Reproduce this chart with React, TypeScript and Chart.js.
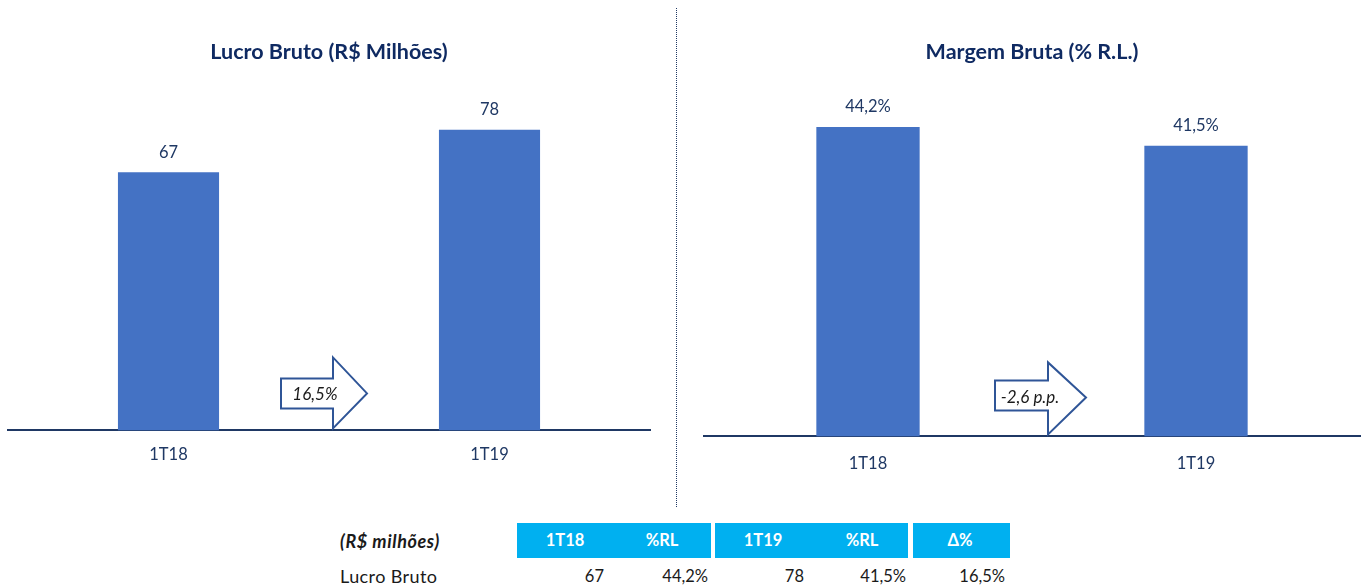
import React, { useEffect, useRef } from "react";
import { Chart, registerables } from "chart.js";

Chart.register(...registerables);

// ---- data ----
const categories = ["1T18", "1T19"];
const lucroBruto = [67, 78];
const lucroLabels = ["67", "78"];
const margemBruta = [44.2, 41.5];
const margemLabels = ["44,2%", "41,5%"];
const lucroVar = "16,5%";
const margemVar = "-2,6 p.p.";
const tableCaption = "(R$ milhões)";
const tableHeaders = ["1T18", "%RL", "1T19", "%RL", "Δ%"];
const tableRowLabel = "Lucro Bruto";
const tableRow = ["67", "44,2%", "78", "41,5%", "16,5%"];

const FONT = "Lato";
const NAVY = "#1f3864";
const TITLE = "#0f2a62";
const BAR = "#4472c4";

const valueLabelPlugin = {
  id: "valueLabels",
  afterDatasetsDraw(chart: any, _args: any, opts: any) {
    if (!opts || !opts.labels) return;
    const ctx = chart.ctx;
    const meta = chart.getDatasetMeta(0);
    ctx.save();
    ctx.font = `16.5px ${FONT}`;
    ctx.fillStyle = NAVY;
    ctx.textAlign = "center";
    ctx.textBaseline = "middle";
    meta.data.forEach((bar: any, i: number) => {
      ctx.fillText(opts.labels[i], bar.x, bar.y - opts.offset);
    });
    ctx.restore();
  },
};

const arrowPlugin = {
  id: "arrowNote",
  afterDraw(chart: any, _args: any, opts: any) {
    if (!opts || !opts.text) return;
    const { ctx, chartArea } = chart;
    const cx = (chartArea.left + chartArea.right) / 2;
    const b = chartArea.bottom;
    const [bl, hb, tip] = opts.xs;
    const [bt, bb, ht, hbot, ty] = opts.ys;
    ctx.save();
    ctx.beginPath();
    ctx.moveTo(cx + bl, b + bt);
    ctx.lineTo(cx + hb, b + bt);
    ctx.lineTo(cx + hb, b + ht);
    ctx.lineTo(cx + tip, b + ty);
    ctx.lineTo(cx + hb, b + hbot);
    ctx.lineTo(cx + hb, b + bb);
    ctx.lineTo(cx + bl, b + bb);
    ctx.closePath();
    ctx.fillStyle = "#ffffff";
    ctx.fill();
    ctx.strokeStyle = "#2f5597";
    ctx.lineWidth = 2;
    ctx.lineJoin = "miter";
    ctx.stroke();
    ctx.font = `italic 17px ${FONT}`;
    ctx.fillStyle = "#1a1a1a";
    ctx.textAlign = "center";
    ctx.textBaseline = "middle";
    ctx.fillText(opts.text, cx + opts.tx, b + opts.ty);
    ctx.restore();
  },
};

function makeConfig(
  title: string,
  data: number[],
  labels: string[],
  yMax: number,
  padLeft: number,
  padRight: number,
  tickPad: number,
  arrow: any
): any {
  return {
    type: "bar",
    data: {
      labels: categories,
      datasets: [
        {
          data,
          backgroundColor: BAR,
          barPercentage: 0.63,
          categoryPercentage: 0.5,
        },
      ],
    },
    options: {
      animation: false,
      responsive: false,
      layout: { padding: { left: padLeft, right: padRight, top: 0, bottom: 16.8 } },
      plugins: {
        legend: { display: false },
        tooltip: { enabled: false },
        title: {
          display: true,
          text: title,
          color: TITLE,
          font: { family: FONT, size: 21.5, weight: "bold" },
          padding: { top: 39, bottom: 25 },
        },
        valueLabels: { labels, offset: 20 },
        arrowNote: arrow,
      },
      scales: {
        x: {
          grid: { display: false, drawTicks: false },
          border: { display: true, color: NAVY, width: 2 },
          ticks: { color: NAVY, font: { family: FONT, size: 16.5 }, padding: tickPad },
        },
        y: { display: false, min: 0, max: yMax },
      },
    },
    plugins: [valueLabelPlugin, arrowPlugin],
  };
}

function BarChart(props: { config: any; left: number; top: number; width: number; height: number }) {
  const ref = useRef<HTMLCanvasElement | null>(null);
  useEffect(() => {
    if (!ref.current) return;
    const chart = new Chart(ref.current, props.config);
    return () => chart.destroy();
  }, []);
  return (
    <canvas
      ref={ref}
      width={props.width}
      height={props.height}
      style={{
        position: "absolute",
        left: props.left,
        top: props.top,
        width: props.width,
        height: props.height,
      }}
    />
  );
}

const leftConfig = makeConfig("Lucro Bruto (R$ Milhões)", lucroBruto, lucroLabels, 88.4, 8, 18, 14, {
  text: lucroVar,
  xs: [-48, 4, 38],
  ys: [-52, -22, -73, -2, -37],
  tx: -14,
  ty: -36,
});

const rightConfig = makeConfig("Margem Bruta (% R.L.)", margemBruta, margemLabels, 49.5, 14, 7, 17, {
  text: margemVar,
  xs: [-37, 16, 54],
  ys: [-56, -26, -74, -2, -39],
  tx: -2,
  ty: -39,
});

const headerBlocks = [
  { left: 517, width: 194, items: [0, 1], centers: [565, 662] },
  { left: 715, width: 193, items: [2, 3], centers: [763, 862] },
  { left: 913, width: 97, items: [4], centers: [960] },
];
const rowRightEdges = [604, 708, 804, 906, 1005];

export default function App() {
  return (
    <div
      style={{
        position: "absolute",
        left: 0,
        top: 0,
        width: 1367,
        height: 588,
        background: "#ffffff",
        overflow: "hidden",
        fontFamily: FONT,
      }}
    >
      <BarChart config={leftConfig} left={0} top={0} width={668} height={495} />
      <BarChart config={rightConfig} left={690} top={0} width={677} height={507} />
      <div
        style={{
          position: "absolute",
          left: 676,
          top: 8,
          height: 499,
          width: 0,
          borderLeft: "1px dotted #1f3864",
        }}
      />
      <div
        style={{
          position: "absolute",
          left: 340,
          top: 530,
          fontSize: 18,
          letterSpacing: 0.6,
          fontWeight: "bold",
          fontStyle: "italic",
          color: "#1a1a1a",
          lineHeight: "22px",
          whiteSpace: "nowrap",
        }}
      >
        {tableCaption}
      </div>
      {headerBlocks.map((blk, bi) => (
        <div
          key={bi}
          style={{
            position: "absolute",
            left: blk.left,
            top: 523,
            width: blk.width,
            height: 35,
            background: "#00b0f0",
          }}
        >
          {blk.items.map((it, k) => (
            <div
              key={it}
              style={{
                position: "absolute",
                left: blk.centers[k] - blk.left - 50,
                width: 100,
                top: 0,
                height: 35,
                lineHeight: "35px",
                textAlign: "center",
                color: "#ffffff",
                fontWeight: "bold",
                fontSize: 16.5,
              }}
            >
              {tableHeaders[it]}
            </div>
          ))}
        </div>
      ))}
      <div
        style={{
          position: "absolute",
          left: 340,
          top: 565,
          fontSize: 18,
          letterSpacing: 0.4,
          color: "#1a1a1a",
          lineHeight: "22px",
          whiteSpace: "nowrap",
        }}
      >
        {tableRowLabel}
      </div>
      {tableRow.map((v, i) => (
        <div
          key={i}
          style={{
            position: "absolute",
            left: rowRightEdges[i] - 100,
            width: 100,
            top: 565,
            fontSize: 16.5,
            color: "#1a1a1a",
            lineHeight: "22px",
            textAlign: "right",
          }}
        >
          {v}
        </div>
      ))}
    </div>
  );
}
